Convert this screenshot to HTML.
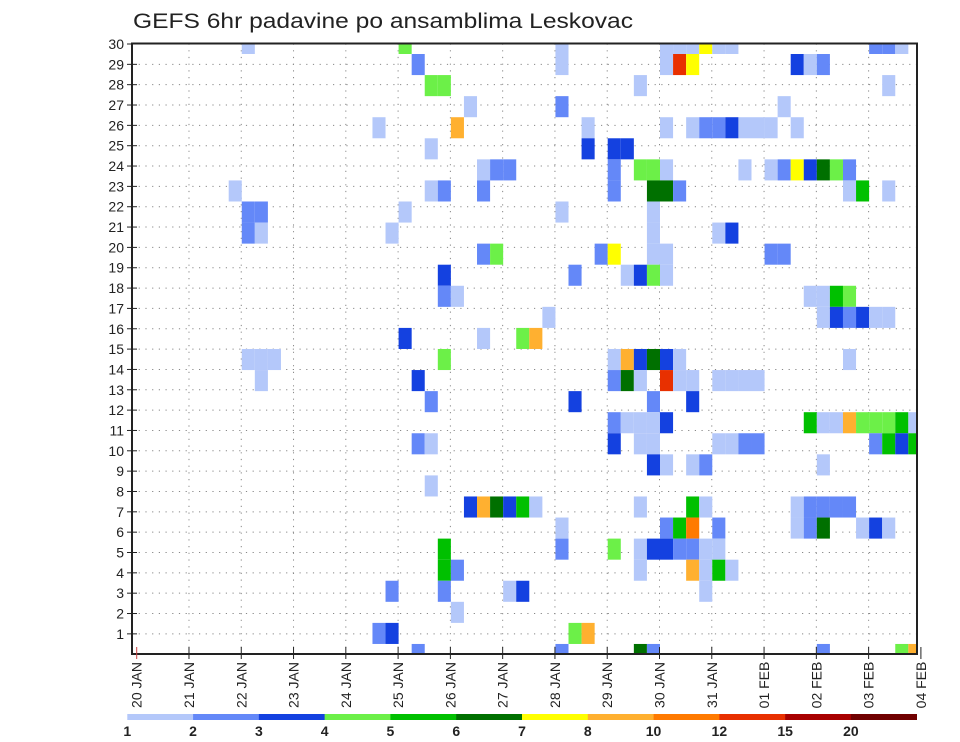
<!DOCTYPE html>
<html><head><meta charset="utf-8">
<style>
html,body{margin:0;padding:0;background:#fff;}
svg{display:block;font-family:"Liberation Sans",sans-serif;}
</style></head>
<body>
<svg id="chart" width="960" height="742" viewBox="0 0 960 742" xmlns="http://www.w3.org/2000/svg">
<text x="133" y="28" font-size="21" fill="#222" textLength="500" lengthAdjust="spacingAndGlyphs">GEFS 6hr padavine po ansamblima Leskovac</text>
<defs><clipPath id="plotclip"><rect x="132" y="43.5" width="785" height="610.5"/></clipPath></defs>
<g id="grid"></g>
<g id="cells" clip-path="url(#plotclip)"></g>
<rect x="132" y="43.5" width="785" height="610.5" fill="none" stroke="#222" stroke-width="2"/>
<g id="yaxis"></g>
<g id="xaxis"></g>
<g id="legend"></g>
</svg>
<script>
// ---- data ----
const dayLabels = ["20 JAN","21 JAN","22 JAN","23 JAN","24 JAN","25 JAN","26 JAN","27 JAN","28 JAN","29 JAN","30 JAN","31 JAN","01 FEB","02 FEB","03 FEB","04 FEB"];
const memberLabels = [1,2,3,4,5,6,7,8,9,10,11,12,13,14,15,16,17,18,19,20,21,22,23,24,25,26,27,28,29,30];
const levelLabels = ["1","2","3","4","5","6","7","8","10","12","15","20"];
const levelThresholds = [1,2,3,4,5,6,7,8,10,12,15,20];
const levelColors = ["#b4c8fa","#6488f8","#1441e0","#6cf048","#00c000","#007000","#ffff00","#ffb030","#ff7a00","#e83000","#a80000","#700000"];
// each cell: ensemble member, 6-hour step index (0 = 20 JAN 00z), precipitation (mm)
const cellMember = [
30,30,30,30,30,30,30,30,30,30,30,30,
29,29,29,29,29,29,29,29,
28,28,28,28,
27,27,27,
26,26,26,26,26,26,26,26,26,26,26,26,
25,25,25,25,
24,24,24,24,24,24,24,24,24,24,24,24,24,24,24,
23,23,23,23,23,23,23,23,23,23,23,
22,22,22,22,22,
21,21,21,21,21,21,
20,20,20,20,20,20,20,20,
19,19,19,19,19,19,
18,18,18,18,18,18,
17,17,17,17,17,17,17,
16,16,16,16,
15,15,15,15,15,15,15,15,15,15,15,
14,14,14,14,14,14,14,14,14,14,14,14,
13,13,13,13,
12,12,12,12,12,12,12,12,12,12,12,12,12,12,
11,11,11,11,11,11,11,11,11,11,11,11,11,
10,10,10,10,10,
9,
8,8,8,8,8,8,8,8,8,8,8,8,8,8,
7,7,7,7,7,7,7,7,7,7,7,
6,6,6,6,6,6,6,6,6,6,
5,5,5,5,5,5,5,
4,4,4,4,4,
3,
2,2,2,2,
1,1,1,1,1,1,1];
const cellStep = [
8,20,32,40,41,42,43,44,45,56,57,58,
21,32,40,41,42,50,51,52,
22,23,38,57,
25,32,49,
18,24,34,40,42,43,44,45,46,47,48,50,
22,34,36,37,
26,27,28,36,38,39,40,46,48,49,50,51,52,53,54,
7,22,23,26,36,39,40,41,54,55,57,
8,9,20,32,39,
8,9,19,39,44,45,
26,27,35,36,39,40,48,49,
23,33,37,38,39,40,
23,24,51,52,53,54,
31,52,53,54,55,56,57,
20,26,29,30,
8,9,10,23,36,37,38,39,40,41,54,
9,21,36,37,38,40,41,42,44,45,46,47,
22,33,39,42,
36,37,38,39,40,51,52,53,54,55,56,57,58,59,
21,22,36,38,39,44,45,46,47,56,57,58,59,
39,40,42,43,52,
22,
25,26,27,28,29,30,38,42,43,50,51,52,53,54,
32,40,41,42,44,50,51,52,55,56,57,
23,32,36,38,39,40,41,42,43,44,
23,24,38,42,43,44,45,
19,23,28,29,43,
24,
18,19,33,34,
21,32,38,39,52,58,59];
const cellPrecip = [
1.5,4.5,1.5,1.5,1.5,1.5,7.5,1.5,1.5,2.5,2.5,1.5,
2.5,1.5,1.5,13,7.5,3.5,1.5,2.5,
4.5,4.5,1.5,1.5,
1.5,2.5,1.5,
1.5,9,1.5,1.5,1.5,2.5,2.5,3.5,1.5,1.5,1.5,1.5,
1.5,3.5,3.5,3.5,
1.5,2.5,2.5,2.5,4.5,4.5,1.5,1.5,1.5,2.5,7.5,3.5,6.5,4.5,2.5,
1.5,1.5,2.5,2.5,2.5,6.5,6.5,2.5,1.5,5.5,1.5,
2.5,2.5,1.5,1.5,1.5,
2.5,1.5,1.5,1.5,1.5,3.5,
2.5,4.5,2.5,7.5,1.5,1.5,2.5,2.5,
3.5,2.5,1.5,3.5,4.5,1.5,
2.5,1.5,1.5,1.5,5.5,4.5,
1.5,1.5,3.5,2.5,3.5,1.5,1.5,
3.5,1.5,4.5,9,
1.5,1.5,1.5,4.5,1.5,9,3.5,6.5,3.5,1.5,1.5,
1.5,3.5,2.5,6.5,1.5,13,1.5,1.5,1.5,1.5,1.5,1.5,
2.5,3.5,2.5,3.5,
2.5,1.5,1.5,1.5,3.5,5.5,1.5,1.5,9,4.5,4.5,4.5,5.5,1.5,
2.5,1.5,3.5,1.5,1.5,1.5,1.5,2.5,2.5,2.5,5.5,3.5,5.5,
3.5,1.5,1.5,2.5,1.5,
1.5,
3.5,9,6.5,3.5,5.5,1.5,1.5,5.5,1.5,1.5,2.5,2.5,2.5,2.5,
1.5,2.5,5.5,11,2.5,1.5,2.5,6.5,1.5,3.5,1.5,
5.5,2.5,4.5,1.5,3.5,3.5,2.5,2.5,1.5,1.5,
5.5,2.5,1.5,9,1.5,5.5,1.5,
2.5,2.5,1.5,3.5,1.5,
1.5,
2.5,3.5,4.5,9,
2.5,2.5,6.5,2.5,2.5,4.5,9];

// ---- scales ----
const NS="http://www.w3.org/2000/svg";
const X0=136.7, STEP=13.07, DAY=STEP*4;
const xStep = i => X0 + i*STEP;
const yLabel = r => 44 + (30-r)*20.34;
const CELLH = 21.07;
const yCellTop = m => 32.93 + (30-m)*CELLH;
function colorFor(v){let c=null;for(let k=0;k<levelThresholds.length;k++){if(v>=levelThresholds[k])c=levelColors[k];}return c;}
function mk(tag,attrs,parent){const e=document.createElementNS(NS,tag);for(const k in attrs)e.setAttribute(k,attrs[k]);parent.appendChild(e);return e;}

// grid
const grid=document.getElementById('grid');
memberLabels.forEach(r=>{
  if(r===30) return;
  const l=mk('line',{x1:132,x2:917,y1:yLabel(r),y2:yLabel(r),stroke:'#888','stroke-width':1,'stroke-dasharray':'1.2 5.5'},grid);
  
  
});
dayLabels.forEach((d,k)=>{
  if(k===0||k===dayLabels.length-1) return;
  const l=mk('line',{x1:X0+k*DAY,x2:X0+k*DAY,y1:43.5,y2:654,stroke:'#888','stroke-width':1,'stroke-dasharray':'1.2 5.5'},grid);
  
  
});

// cells
const cells=document.getElementById('cells');
for(let n=0;n<cellMember.length;n++){
  const r=mk('rect',{x:xStep(cellStep[n])+0.5,y:yCellTop(cellMember[n]),width:STEP,height:CELLH,fill:colorFor(cellPrecip[n])},cells);
  
  
}

// y axis
const ya=document.getElementById('yaxis');
memberLabels.forEach(r=>{
  const y=yLabel(r);
  const t=mk('line',{x1:127,x2:137,y1:y,y2:y,stroke:'#222','stroke-width':1},ya);
  
  
  const tx=mk('text',{x:124,y:y+5,'text-anchor':'end','font-size':14,fill:'#222'},ya);
  tx.textContent=r;
  
  
});

// x axis
const xa=document.getElementById('xaxis');
dayLabels.forEach((d,k)=>{
  const x=X0+k*DAY;
  const t=mk('line',{x1:x,x2:x,y1:647,y2:659,stroke:(k===0?'#c44':'#222'),'stroke-width':1},xa);
  
  
  const tx=mk('text',{transform:`translate(${x+5},685) rotate(-90)`,'text-anchor':'middle','font-size':14,fill:'#222'},xa);
  tx.textContent=d;
  
  
});

// colorbar
const lg=document.getElementById('legend');
const CB0=127.3, CBW=(916.7-127.3)/levelColors.length;
levelColors.forEach((c,k)=>{
  const r=mk('rect',{x:CB0+k*CBW,y:714,width:CBW+0.3,height:6,fill:c},lg);
  
  
});
levelLabels.forEach((s,k)=>{
  const tx=mk('text',{x:CB0+k*CBW,y:736,'text-anchor':'middle','font-size':14,'font-weight':'bold',fill:'#222'},lg);
  tx.textContent=s;
  
  
});
</script>
</body></html>
